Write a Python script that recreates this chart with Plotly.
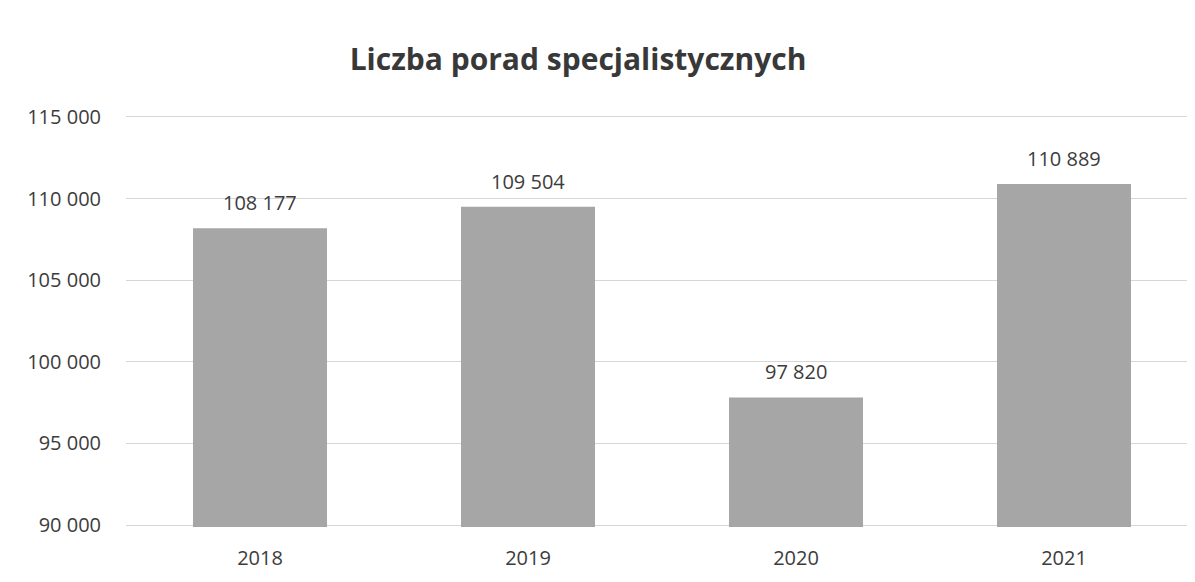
import plotly.graph_objects as go

# Liczba porad specjalistycznych per year
years = ["2018", "2019", "2020", "2021"]
porady = [108177, 109504, 97820, 110889]
labels = ["108 177", "109 504", "97 820", "110 889"]

fig = go.Figure()
fig.add_trace(go.Bar(
    x=years, y=porady,
    marker=dict(color="#a6a6a6", line=dict(width=0)),
    width=0.5,
))

# value labels above bars (category index on the x axis)
for i, (val, lab) in enumerate(zip(porady, labels)):
    fig.add_annotation(x=i, y=val, text=lab, showarrow=False,
                       yanchor="bottom", yshift=10,
                       font=dict(size=20, color="#3c3c3c", family="Open Sans"))

fig.update_layout(
    width=1195, height=582,
    title=dict(text="<b>Liczba porad specjalistycznych</b>", x=0.477, y=0.911, xanchor="center", yanchor="middle",
               font=dict(size=30, color="#383838", family="Open Sans")),
    margin=dict(l=118, r=5, t=107, b=63),
    plot_bgcolor="white", paper_bgcolor="white",
    separators=", ",
    showlegend=False,
    font=dict(family="Open Sans", size=18, color="#3c3c3c"),
    xaxis=dict(type="category", range=[-0.5, 3.5],
               showgrid=False, showline=False, ticks="", ticklabelstandoff=17,
               tickfont=dict(size=20, color="#3c3c3c")),
    yaxis=dict(range=[89880, 115120], dtick=5000, tick0=90000, tickformat=",d",
               showgrid=True, gridcolor="#d6d6d6", gridwidth=1, zeroline=False,
               ticks="", ticklabelstandoff=24, tickfont=dict(size=20, color="#3c3c3c")),
)

fig.write_html("out.html")
